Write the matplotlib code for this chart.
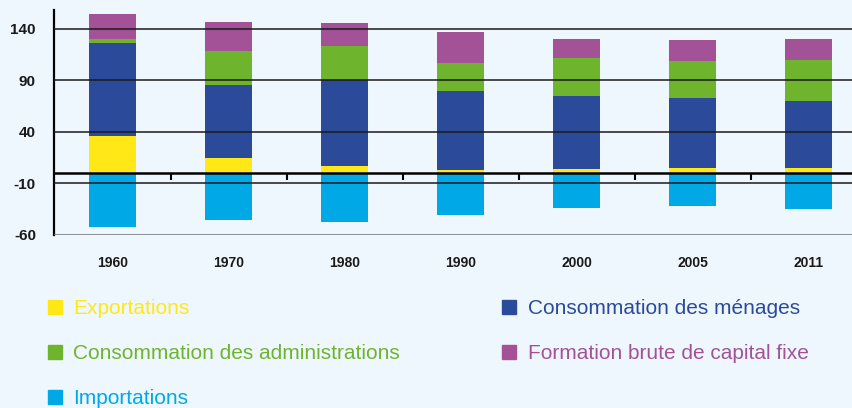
import matplotlib
matplotlib.use("Agg")
import matplotlib.pyplot as plt
from matplotlib.lines import Line2D
import numpy as np

# Données
annees = ["1960", "1970", "1980", "1990", "2000", "2005", "2011"]
exportations = [35.7, 14.3, 6.5, 2.6, 3.6, 4.6, 4.6]
menages = [90.6, 71.1, 83.6, 77.0, 71.1, 68.1, 65.2]
administrations = [3.9, 33.1, 33.3, 27.2, 37.0, 36.1, 40.0]
fbcf = [24.3, 28.2, 22.4, 30.2, 18.5, 20.4, 20.4]
importations = [-51.9, -45.1, -47.0, -40.2, -33.4, -31.5, -34.4]
graduations = [140, 90, 40, -10, -60]

c_exp = "#FFE815"
c_men = "#2B4B9A"
c_adm = "#6EB52D"
c_fbcf = "#A45298"
c_imp = "#00A9E6"
fond = "#EFF7FE"

plt.rcParams["font.family"] = ["Liberation Sans Narrow", "Liberation Sans", "DejaVu Sans"]

fig = plt.figure(figsize=(8.53, 4.08), dpi=100, facecolor=fond)
ax = fig.add_axes([54 / 853, 1 - 235 / 408, 1 - 54 / 853, (235 - 10) / 408])
ax.set_facecolor(fond)

x = np.arange(len(annees))
w = 0.405
exp = np.array(exportations)
men = np.array(menages)
adm = np.array(administrations)

ax.bar(x, exportations, w, color=c_exp, zorder=2)
ax.bar(x, menages, w, bottom=exp, color=c_men, zorder=2)
ax.bar(x, administrations, w, bottom=exp + men, color=c_adm, zorder=2)
ax.bar(x, fbcf, w, bottom=exp + men + adm, color=c_fbcf, zorder=2)
ax.bar(x, importations, w, color=c_imp, zorder=2)

# lignes horizontales au-dessus des barres
for g in graduations:
    col = "#6E737A" if g == -60 else "#1A1A1A"
    ax.axhline(g, color=col, lw=1.1, zorder=3)
ax.axhline(0, color="black", lw=1.8, zorder=4)
ax.vlines(x[:-1] + 0.5, -6.5, 0, color="black", lw=1.5, zorder=4)

ax.set_xlim(-0.504, 6.38)
ax.set_ylim(-60, 158)
for s in ["top", "right", "bottom"]:
    ax.spines[s].set_visible(False)
ax.spines["left"].set_linewidth(1.6)
ax.spines["left"].set_color("black")

ax.set_yticks(graduations)
ax.set_yticklabels([str(g) for g in graduations], fontsize=11, fontweight="bold", color="#1A1A1A")
ax.set_xticks(x)
ax.set_xticklabels(annees, fontsize=10, fontweight="bold", color="#1A1A1A")
ax.tick_params(axis="y", length=0, pad=13)
ax.tick_params(axis="x", length=0, pad=15)

def poignee(c):
    return Line2D([], [], marker="s", linestyle="none", markersize=9.8,
                  markerfacecolor=c, markeredgecolor=c)

leg1 = fig.legend([poignee(c_exp), poignee(c_adm), poignee(c_imp)],
                  ["Exportations", "Consommation des administrations", "Importations"],
                  loc="upper left", bbox_to_anchor=(36 / 853, 1 - 289 / 408),
                  frameon=False, fontsize=15, labelcolor="markerfacecolor",
                  handlelength=0.8, handletextpad=0.5, labelspacing=1.25, borderpad=0)
fig.legend([poignee(c_men), poignee(c_fbcf)],
           ["Consommation des ménages", "Formation brute de capital fixe"],
           loc="upper left", bbox_to_anchor=(490 / 853, 1 - 289 / 408),
           frameon=False, fontsize=15, labelcolor="markerfacecolor",
           handlelength=0.8, handletextpad=0.5, labelspacing=1.25, borderpad=0)

fig.savefig("out.png", dpi=100, facecolor=fond)
